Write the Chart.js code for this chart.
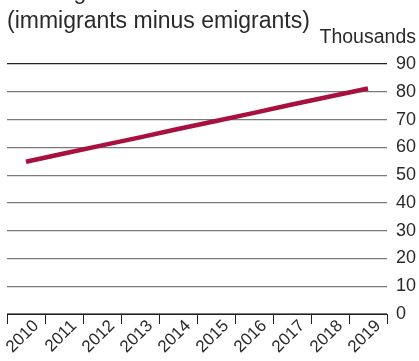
<!DOCTYPE html>
<html>
<head>
<meta charset="utf-8">
<script src="https://cdn.jsdelivr.net/npm/chart.js@4.4.1/dist/chart.umd.min.js"></script>
<style>
  html, body { margin: 0; padding: 0; background: #fff; }
  #wrap { position: relative; width: 419px; height: 361px; }
</style>
</head>
<body>
<div id="wrap"><canvas id="c" width="419" height="361"></canvas></div>
<script>
const categories = ['2010','2011','2012','2013','2014','2015','2016','2017','2018','2019'];
const netMigration = [54.8, 57.8, 60.7, 63.6, 66.6, 69.5, 72.4, 75.4, 78.3, 81.2];
const yTicks = [0, 10, 20, 30, 40, 50, 60, 70, 80, 90];
const titleCut = 'Net migration';
const subtitle = '(immigrants minus emigrants)';
const unitLabel = 'Thousands';

const FONT = '"Liberation Sans", Arial, Helvetica, sans-serif';
const TEXT = '#2a2a2a';

const textPlugin = {
  id: 'texts',
  afterDraw(chart) {
    const ctx = chart.ctx;
    ctx.save();
    ctx.fillStyle = TEXT;
    ctx.textBaseline = 'alphabetic';
    ctx.textAlign = 'left';
    ctx.font = '23px ' + FONT;
    ctx.fillText(titleCut, 7, -1);
    ctx.fillText(subtitle, 7, 28);
    ctx.textAlign = 'right';
    ctx.font = '19.5px ' + FONT;
    ctx.fillText(unitLabel, 416, 43);
    ctx.restore();
  }
};

new Chart(document.getElementById('c'), {
  type: 'line',
  data: {
    labels: categories,
    datasets: [{
      data: netMigration,
      borderColor: '#a8103f',
      borderWidth: 4.5,
      borderCapStyle: 'butt',
      pointRadius: 0,
      tension: 0,
      fill: false
    }]
  },
  options: {
    responsive: false,
    animation: false,
    devicePixelRatio: 1,
    layout: { padding: { top: 64, left: 7, right: 0, bottom: 0 } },
    plugins: { legend: { display: false }, tooltip: { enabled: false }, title: { display: false } },
    scales: {
      x: {
        type: 'category',
        offset: true,
        grid: {
          offset: true,
          drawOnChartArea: false,
          drawTicks: true,
          tickLength: 10,
          color: '#222',
          lineWidth: 1
        },
        border: { display: true, color: '#222', width: 1 },
        ticks: {
          color: TEXT,
          font: { family: FONT, size: 17 },
          minRotation: 45,
          maxRotation: 45,
          autoSkip: false,
          padding: -8,
          labelOffset: 10
        },
        afterFit(scale) { scale.height = 47; }
      },
      y: {
        position: 'right',
        min: 0,
        max: 90,
        afterBuildTicks(scale) { scale.ticks = yTicks.map(v => ({ value: v })); },
        grid: {
          drawTicks: false,
          color: ctx => (ctx.tick && ctx.tick.value === 90) ? '#222' : '#7a7a7a',
          lineWidth: 1.2
        },
        border: { display: false },
        ticks: {
          color: TEXT,
          font: { family: FONT, size: 18 },
          padding: 9,
          align: 'center'
        },
        afterFit(scale) { scale.width = 32; }
      }
    }
  },
  plugins: [textPlugin]
});
</script>
</body>
</html>
